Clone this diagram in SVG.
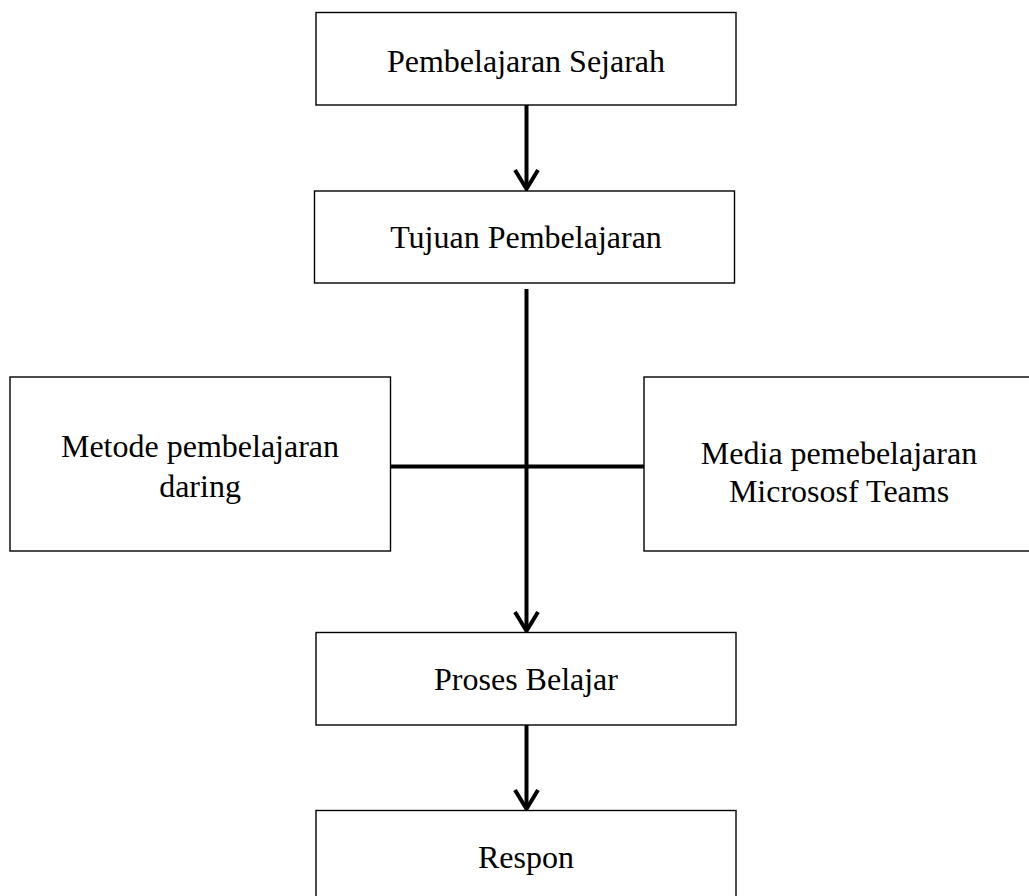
<svg xmlns="http://www.w3.org/2000/svg" width="1029" height="896" viewBox="0 0 1029 896">
<style>
.box{fill:#fff;stroke:#000;stroke-width:1.4}
.lbl{font-family:"Liberation Serif","Times New Roman",serif;font-size:32px;fill:#000;text-anchor:middle}
.ln{stroke:#000;stroke-width:4;fill:none}
.head{stroke:#000;stroke-width:4;fill:none;stroke-linejoin:miter}
</style>
<rect width="1029" height="896" fill="#fff"/>
<g id="connectors">
<line class="ln" x1="526.5" y1="105" x2="526.5" y2="188"/>
<polyline class="head" points="515,170 526.5,189 538,170"/>
<line class="ln" x1="526.5" y1="289" x2="526.5" y2="630"/>
<line class="ln" x1="390" y1="466.5" x2="644" y2="466.5"/>
<polyline class="head" points="515,612 526.5,631 538,612"/>
<line class="ln" x1="526.5" y1="725" x2="526.5" y2="808"/>
<polyline class="head" points="515,790 526.5,809 538,790"/>
</g>
<g id="n1"><rect class="box" x="316" y="12.5" width="420" height="92.5"/><text class="lbl" x="526" y="72">Pembelajaran Sejarah</text></g>
<g id="n2"><rect class="box" x="314.5" y="191" width="420" height="92"/><text class="lbl" x="526" y="248">Tujuan Pembelajaran</text></g>
<g id="n3"><rect class="box" x="10" y="377" width="380.5" height="174"/><text class="lbl" x="200" y="457">Metode pembelajaran</text><text class="lbl" x="200" y="497">daring</text></g>
<g id="n4"><rect class="box" x="644" y="377" width="392" height="174"/><text class="lbl" x="839" y="464">Media pemebelajaran</text><text class="lbl" x="839" y="502">Micrososf Teams</text></g>
<g id="n5"><rect class="box" x="316" y="632.5" width="420" height="92.5"/><text class="lbl" x="526" y="690">Proses Belajar</text></g>
<g id="n6"><rect class="box" x="316" y="810.5" width="420" height="100"/><text class="lbl" x="526" y="868">Respon</text></g>
</svg>
